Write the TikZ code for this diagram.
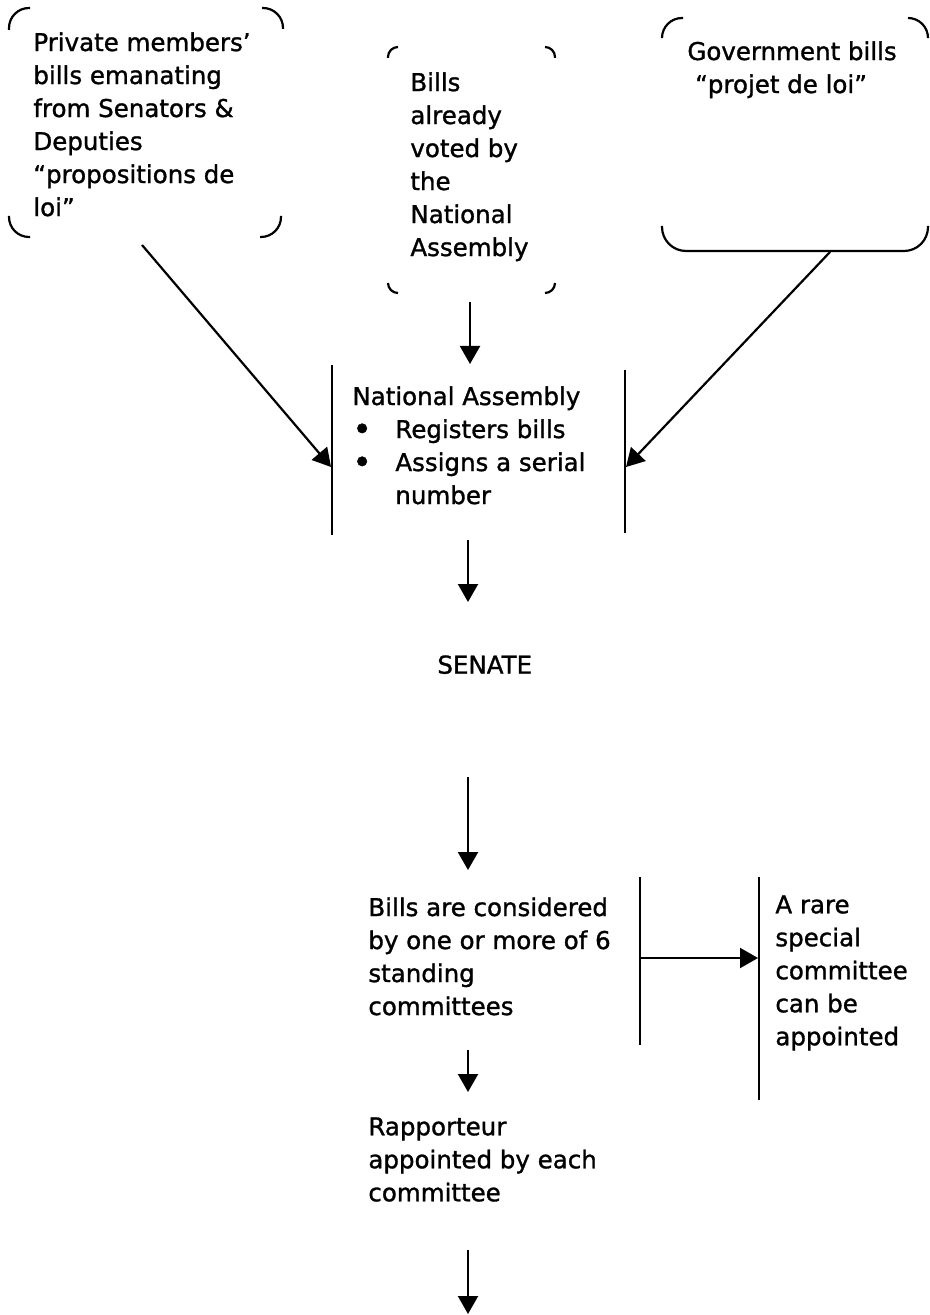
\documentclass[tikz,border=0pt]{standalone}
\usepackage{fontspec}
\setmainfont{DejaVu Sans}
\newfontfamily\diagfont[FakeBold=1.2]{DejaVu Sans}
\usetikzlibrary{arrows.meta}
\newcommand{\blt}{\makebox[21.5pt][l]{\raisebox{-1.3pt}{\fontsize{16.5}{16.5}\selectfont •}}}
\begin{document}
\begin{tikzpicture}[x=0.5pt,y=-0.5pt,
  txt/.style={anchor=north west, inner sep=0pt, align=left,
              font=\diagfont\fontsize{12.25}{16.5}\selectfont},
  flow/.style={line width=1.1pt, -{Triangle[length=9pt,width=10pt]}},
  rule/.style={line width=1.1pt},
  corner/.style={line width=1.1pt, rounded corners=10pt},
  smallcorner/.style={line width=1.1pt, rounded corners=5pt}]

\useasboundingbox (0,0) rectangle (930,1315);
\fill[white] (0,0) rectangle (930,1315);

% ---- source boxes (only the rounded corners are drawn) ----
\draw[corner] (9,30) |- (30,8);
\draw[corner] (262,8) -| (283,29);
\draw[corner] (9,216) |- (30,237);
\draw[corner] (260,237) -| (281,216);
\node[txt] (priv) at (33,32) {Private members’\\bills emanating\\from Senators \&\\Deputies\\“propositions de\\loi”};

\draw[smallcorner] (388,58) |- (398,47);
\draw[smallcorner] (545,47) -| (555,58);
\draw[smallcorner] (388,283) |- (398,293);
\draw[smallcorner] (545,293) -| (555,283);
\node[txt] (voted) at (410,72) {Bills\\already\\voted by\\the\\National\\Assembly};

\draw[corner] (662,37) |- (683,18);
\draw[corner] (908,18) -| (928,37);
\draw[rule, rounded corners=12pt] (662,226) |- (928,251) -- (928,226);
\node[txt] (gov) at (687,41) {Government bills\\\hspace*{3.9pt}“projet de loi”};

% ---- National Assembly ----
\coordinate (naL1) at (332,365); \coordinate (naL2) at (332,535);
\coordinate (naR1) at (625,370); \coordinate (naR2) at (625,533);
\draw[rule] (naL1) -- (naL2);
\draw[rule] (naR1) -- (naR2);
\node[txt] (na) at (352,386) {National Assembly\\
  \blt Registers bills\\
  \blt Assigns a serial\\
  \hspace*{21.5pt}number};

% ---- Senate and committees ----
\node[txt] (senate) at (437,655) {SENATE};
\node[txt] (cmt) at (368,897) {Bills are considered\\by one or more of 6\\standing\\committees};
\coordinate (cL1) at (640,877); \coordinate (cL2) at (640,1045);
\coordinate (cR1) at (759,877); \coordinate (cR2) at (759,1100);
\draw[rule] (cL1) -- (cL2);
\draw[rule] (cR1) -- (cR2);
\node[txt] (special) at (775,895) {A rare\\special\\committee\\can be\\appointed};
\node[txt] (rapp) at (368,1117) {Rapporteur\\appointed by each\\committee};

% ---- connectors ----
\coordinate (privOut) at (142,245);
\coordinate (naInL) at (331,467);
\coordinate (govOut) at (830,252);
\coordinate (naInR) at (626,467);
\coordinate (votedOut) at (470,302);
\coordinate (naIn) at (470,364);
\coordinate (naOut) at (468,540);
\coordinate (senIn) at (468,602);
\coordinate (senOut) at (468,777);
\coordinate (cmtIn) at (468,870);
\coordinate (spOut) at (640,958);
\coordinate (spIn) at (758,958);
\coordinate (cmtOut) at (468,1050);
\coordinate (rappIn) at (468,1092);
\coordinate (rappOut) at (468,1250);
\coordinate (nextIn) at (468,1314);

\draw[flow] (privOut) -- (naInL);
\draw[flow] (govOut) -- (naInR);
\draw[flow] (votedOut) -- (naIn);
\draw[flow] (naOut) -- (senIn);
\draw[flow] (senOut) -- (cmtIn);
\draw[flow] (spOut) -- (spIn);
\draw[flow] (cmtOut) -- (rappIn);
\draw[flow] (rappOut) -- (nextIn);
\end{tikzpicture}
\end{document}
